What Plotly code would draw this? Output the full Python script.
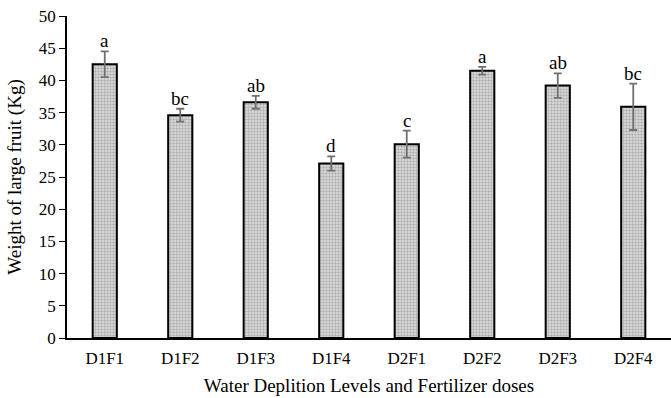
import plotly.graph_objects as go

categories = ["D1F1", "D1F2", "D1F3", "D1F4", "D2F1", "D2F2", "D2F3", "D2F4"]
values = [42.5, 34.6, 36.6, 27.1, 30.1, 41.5, 39.2, 35.9]
errors = [2.0, 1.0, 1.0, 1.1, 2.1, 0.6, 1.9, 3.6]
letters = ["a", "bc", "ab", "d", "c", "a", "ab", "bc"]
y_ticks = [0, 5, 10, 15, 20, 25, 30, 35, 40, 45, 50]

FONT = "Liberation Serif, Times New Roman, serif"

fig = go.Figure()
fig.add_trace(go.Bar(
    x=categories, y=values,
    width=0.32,
    marker=dict(
        color="#e0e0e0",
        line=dict(color="black", width=2),
        pattern=dict(shape=".", fgcolor="#808080", bgcolor="#e0e0e0", size=3, solidity=0.5),
    ),
    error_y=dict(type="data", array=errors, visible=True, color="#707070", thickness=1.8, width=4),
))

for c, v, e, t in zip(categories, values, errors, letters):
    fig.add_annotation(x=c, y=v + e, text=t, showarrow=False, yanchor="bottom",
                       yshift=-2, font=dict(family=FONT, size=19, color="black"))

fig.update_layout(
    width=671, height=398,
    margin=dict(l=67, r=0, t=16, b=60),
    paper_bgcolor="white", plot_bgcolor="white",
    showlegend=False,
    font=dict(family=FONT, size=17, color="black"),
    bargap=0.6,
)
fig.update_yaxes(range=[0, 50], tickvals=y_ticks, showline=True, linecolor="black", linewidth=1.5,
                 ticks="outside", ticklen=6, tickcolor="black", showgrid=False, zeroline=False,
                 title=dict(text="Weight of large fruit (Kg)", font=dict(family=FONT, size=19), standoff=12),
                 tickfont=dict(family=FONT, size=17))
fig.update_xaxes(showline=True, linecolor="black", linewidth=1.5, ticks="", showgrid=False,
                 ticklabelstandoff=4,
                 title=dict(text="Water Deplition Levels and Fertilizer doses", font=dict(family=FONT, size=19), standoff=12),
                 tickfont=dict(family=FONT, size=17))

fig.write_html("out.html", config={"displayModeBar": False},
               post_script="document.body.style.margin='0px';")
